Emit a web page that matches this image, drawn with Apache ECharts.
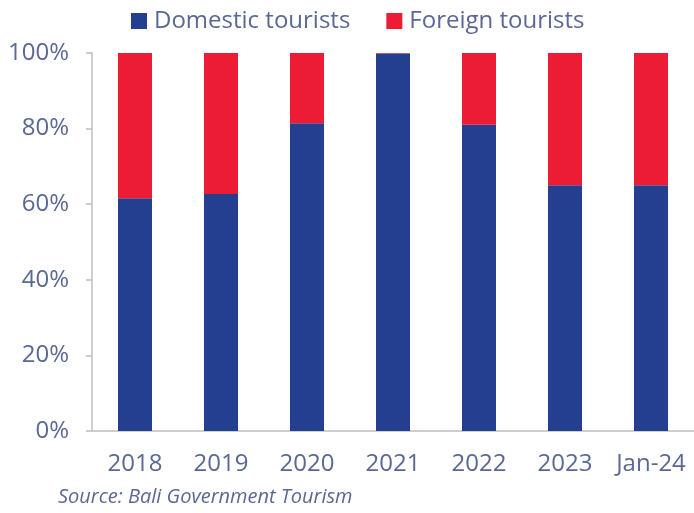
<!DOCTYPE html>
<html>
<head>
<meta charset="utf-8">
<script src="https://cdn.jsdelivr.net/npm/echarts@6/dist/echarts.min.js"></script>
<style>
  html, body { margin: 0; padding: 0; background: #fff; }
  #chart { width: 694px; height: 513px; }
</style>
</head>
<body>
<div id="chart"></div>
<script>
  // 数据
  var categories = ['2018', '2019', '2020', '2021', '2022', '2023', 'Jan-24']
  var domestic = [61.6, 62.7, 81.4, 99.9, 81.0, 65.0, 65.0]
  var foreign = [38.4, 37.3, 18.6, 0.1, 19.0, 35.0, 35.0]
  var yTicks = [0, 20, 40, 60, 80, 100]

  var textColor = '#5b6894'
  var axisColor = '#bfbfbf'
  var font = '"Open Sans", sans-serif'

  var myChart = echarts.init(document.getElementById('chart'))
  myChart.setOption({
    animation: false,
    legend: {
      top: 4,
      left: 126,
      itemWidth: 16,
      itemHeight: 16,
      itemGap: 36,
      icon: 'rect',
      textStyle: { color: textColor, fontSize: 24, fontFamily: font, padding: [0, 0, 0, 2] },
      data: ['Domestic tourists', 'Foreign tourists']
    },
    grid: { left: 92, top: 53, width: 605, bottom: 82 },
    xAxis: {
      type: 'category',
      data: categories,
      axisTick: { show: false },
      axisLine: { lineStyle: { color: axisColor, width: 1.5 } },
      axisLabel: { color: textColor, fontSize: 24, fontFamily: font, margin: 21, interval: 0 }
    },
    yAxis: {
      type: 'value',
      min: yTicks[0],
      max: yTicks[yTicks.length - 1],
      interval: 20,
      axisLine: { show: true, lineStyle: { color: axisColor, width: 1.5 } },
      axisTick: { show: true, length: 6, lineStyle: { color: axisColor, width: 1.5 } },
      splitLine: { show: false },
      axisLabel: {
        color: textColor, fontSize: 24, fontFamily: font, margin: 23,
        formatter: function (v) { return v + '%' }
      }
    },
    series: [
      {
        name: 'Domestic tourists',
        type: 'bar',
        stack: 'total',
        barWidth: 34,
        itemStyle: { color: '#243f8f' },
        data: domestic
      },
      {
        name: 'Foreign tourists',
        type: 'bar',
        stack: 'total',
        barWidth: 34,
        itemStyle: { color: '#ed1c35' },
        data: foreign
      }
    ],
    graphic: [{
      type: 'text',
      left: 58,
      top: 487,
      style: {
        text: 'Source: Bali Government Tourism',
        fill: textColor,
        font: 'italic 20px "Open Sans", sans-serif'
      }
    }]
  })
</script>
</body>
</html>
